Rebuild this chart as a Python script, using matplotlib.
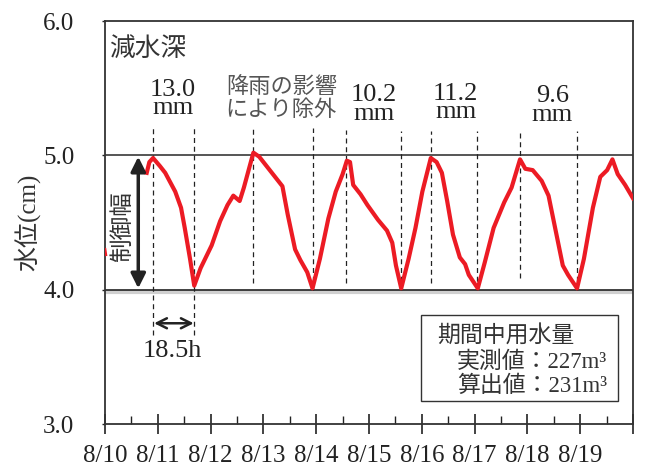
import matplotlib.pyplot as plt
from matplotlib.patches import Rectangle

# ==== フォント ====
jp_fonts = ["Liberation Serif", "Noto Sans CJK JP"]
plt.rcParams["font.family"] = jp_fonts

# ==== データ (日数: 8/10 0:00 = 0) ====
days = [0.79, 0.84, 0.91, 1.04, 1.14, 1.33, 1.44, 1.51, 1.61, 1.69, 1.81, 2.02, 2.18, 2.32,
        2.43, 2.55, 2.63, 2.81, 2.92, 3.16, 3.36, 3.46, 3.60, 3.70, 3.83, 3.93, 4.07, 4.23,
        4.37, 4.50, 4.58, 4.64, 4.70, 4.84, 4.97, 5.17, 5.34, 5.44, 5.51, 5.61, 5.75, 5.88,
        6.01, 6.17, 6.28, 6.38, 6.48, 6.59, 6.72, 6.82, 6.89, 7.06, 7.19, 7.36, 7.56, 7.70,
        7.86, 7.96, 8.10, 8.27, 8.40, 8.54, 8.67, 8.77, 8.94, 9.07, 9.24, 9.38, 9.51, 9.61,
        9.71, 9.85, 10.0]
level = [4.87, 4.95, 4.98, 4.92, 4.87, 4.73, 4.61, 4.46, 4.23, 4.03, 4.16, 4.33, 4.51, 4.63,
         4.70, 4.66, 4.76, 5.02, 4.99, 4.87, 4.77, 4.56, 4.30, 4.22, 4.13, 4.01, 4.23, 4.53,
         4.73, 4.86, 4.96, 4.95, 4.78, 4.71, 4.63, 4.52, 4.44, 4.35, 4.18, 4.01, 4.23, 4.46,
         4.73, 4.98, 4.95, 4.87, 4.66, 4.41, 4.24, 4.19, 4.11, 4.01, 4.20, 4.46, 4.65, 4.76,
         4.97, 4.90, 4.89, 4.81, 4.70, 4.43, 4.18, 4.11, 4.01, 4.23, 4.61, 4.84, 4.89, 4.97,
         4.86, 4.78, 4.68]
prev_days = [0.0, 0.015]
prev_level = [4.30, 4.26]

# 減水深の区切り (破線)
dash_x = [0.91, 1.69, 2.81, 3.93, 4.57, 5.61, 6.17, 7.05, 7.85, 8.93]
dash_top = [5.22, 5.22, 5.21, 5.20, 5.19, 5.18, 5.18, 5.18, 5.18, 5.18]
dash_bottom = [3.66, 3.66, 4.05, 4.00, 4.05, 4.00, 4.05, 4.00, 4.09, 4.00]

rain_labels = ["13.0\nmm", "10.2\nmm", "11.2\nmm", "9.6\nmm"]
rain_x = [1.29, 5.10, 6.64, 8.47]
rain_y = [5.42, 5.38, 5.39, 5.37]

date_labels = ["8/10", "8/11", "8/12", "8/13", "8/14", "8/15", "8/16", "8/17", "8/18", "8/19"]

# ==== 描画 ====
fig = plt.figure(figsize=(6.47, 4.66), dpi=100)
ax = fig.add_axes([0.1623, 0.0901, 0.8161, 0.8648])

ax.axhline(3.985, color="#d0d0d0", lw=3, zorder=1)
ax.axhline(4.0, color="#222222", lw=1.2, zorder=2)
ax.axhline(5.0, color="#555555", lw=1.4, zorder=2)

ax.vlines(dash_x, dash_bottom, dash_top, colors="#222222", linestyles=(0, (4, 3)), lw=0.9, zorder=2)

ax.plot(days, level, color="#ec1b24", lw=3.0, zorder=3, solid_joinstyle="round")
ax.plot(prev_days, prev_level, color="#ec1b24", lw=2.0, zorder=3)

# 制御幅の矢印
ax.annotate("", xy=(0.63, 4.01), xytext=(0.63, 4.99),
            arrowprops=dict(arrowstyle="<|-|>", color="#222222", lw=2.5, mutation_scale=22,
                            shrinkA=0, shrinkB=0))
ax.text(0.34, 4.47, "制御幅", rotation=90, ha="center", va="center", fontsize=17,
        family="Noto Sans CJK JP", color="#333333")

# 18.5h
ax.annotate("", xy=(0.93, 3.75), xytext=(1.68, 3.75),
            arrowprops=dict(arrowstyle="<->", color="#222222", lw=1.8, mutation_scale=18,
                            shrinkA=0, shrinkB=0))
ax.text(1.27, 3.54, "18.5h", ha="center", va="center", fontsize=19, color="#222222")

ax.text(0.08, 5.79, "減水深", ha="left", va="center", fontsize=18.5,
        family="Noto Sans CJK JP", color="#333333")
for lab, x, y in zip(rain_labels, rain_x, rain_y):
    ax.text(x, y, lab, ha="center", va="center", fontsize=19, linespacing=0.8, color="#222222")
ax.text(3.34, 5.43, "降雨の影響\nにより除外", ha="center", va="center", fontsize=16,
        family="Noto Sans CJK JP", linespacing=1.0, color="#555555")

# 期間中用水量
ax.add_patch(Rectangle((5.99, 3.17), 3.73, 0.64, fill=False, ec="#333333", lw=1.0, zorder=2))
ax.text(6.29, 3.66, "期間中用水量", ha="left", va="center", fontsize=16.5, color="#333333")
ax.text(6.67, 3.46, "実測値：227m³", ha="left", va="center", fontsize=16.5, color="#333333")
ax.text(6.67, 3.28, "算出値：231m³", ha="left", va="center", fontsize=16.5, color="#333333")

# ==== 軸 ====
ax.set_xlim(0, 10)
ax.set_ylim(3.0, 6.0)
ax.set_xticks(range(0, 11))
ax.set_xticklabels(date_labels + [""])
ax.set_xticks([i + 0.5 for i in range(10)], minor=True)
ax.set_yticks([3.0, 4.0, 5.0, 6.0])
ax.set_yticklabels(["3.0", "4.0", "5.0", "6.0"])
ax.tick_params(axis="x", which="major", direction="inout", length=14, width=1.2,
               labelsize=18, pad=8, colors="#222222")
ax.tick_params(axis="x", which="minor", direction="in", length=6, width=1.0, colors="#222222")
ax.tick_params(axis="y", which="major", direction="out", length=2, width=1.0,
               labelsize=18, pad=20, colors="#222222")
ax.set_ylabel("水位(cm)", fontsize=18, color="#333333", labelpad=2)
for s in ax.spines.values():
    s.set_color("#333333")
    s.set_linewidth(1.3)

plt.savefig("out.png", dpi=100)
